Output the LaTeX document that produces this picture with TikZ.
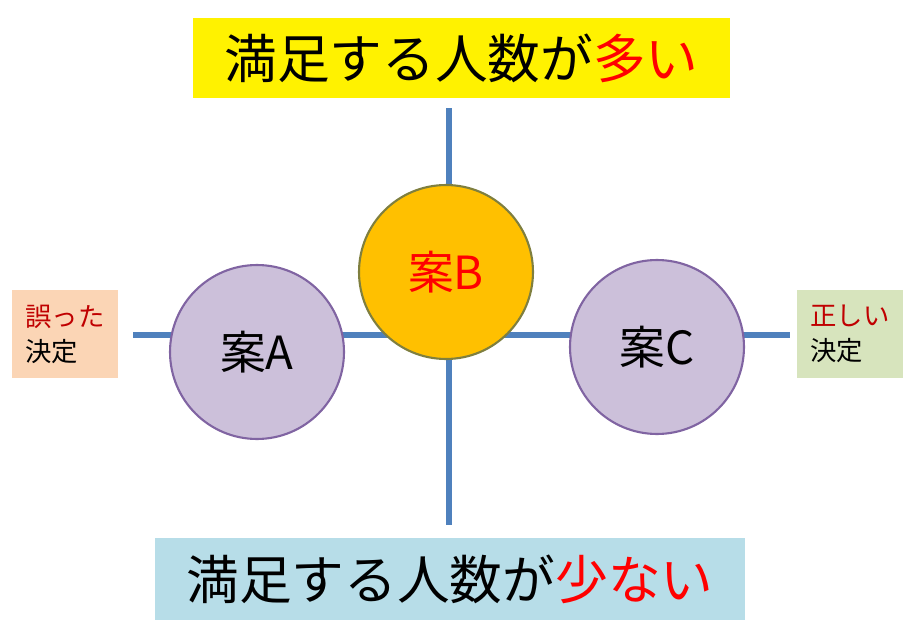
\documentclass[tikz,border=0pt]{standalone}
\usepackage{fontspec}
\setmainfont{Noto Sans CJK JP}
\usetikzlibrary{positioning}
\definecolor{axisblue}{HTML}{4F81BD}
\definecolor{planfill}{HTML}{CCC0DA}
\definecolor{planline}{HTML}{8064A2}
\definecolor{bestfill}{HTML}{FFC000}
\definecolor{bestline}{HTML}{7F7F3F}
\definecolor{darkred}{HTML}{C00000}
\definecolor{wrongfill}{HTML}{FBD5B5}
\definecolor{rightfill}{HTML}{D7E4BD}
\definecolor{lowfill}{HTML}{B7DDE8}
\begin{document}
\begin{tikzpicture}[
      x=0.02cm, y=-0.02cm,
      axis/.style={draw=axisblue, line width=3pt},
      plan/.style={circle, draw=planline, line width=1.2pt, fill=planfill, minimum size=3.48cm, font=\fontsize{26}{30}\selectfont},
      title/.style={rectangle, inner sep=0pt, font=\fontsize{30}{34}\selectfont},
      verdict/.style={rectangle, inner sep=0pt, align=left, minimum width=2.12cm, minimum height=1.76cm, font=\fontsize{15}{20}\selectfont}
      ]
      \useasboundingbox (0,0) rectangle (914,622);

      % axes
      \coordinate (top) at (449,108);
      \coordinate (bottom) at (449,525);
      \coordinate (left) at (133,335);
      \coordinate (right) at (790,335);
      \draw[axis] (top) -- (bottom);
      \draw[axis] (left) -- (right);

      % headings
      \node[title, fill=yellow, minimum width=10.74cm, minimum height=1.6cm] (high) at (461.5,58) {満足する人数が\textcolor{red}{多い}};
      \node[title, fill=lowfill, minimum width=11.8cm, minimum height=1.64cm] (low) at (450,579) {満足する人数が\textcolor{red}{少ない}};

      % the three plans
      \node[plan] (planA) at (257,352) {案A};
      \node[plan, fill=bestfill, draw=bestline] (planB) at (446,272) {\textcolor{red}{案B}};
      \node[plan] (planC) at (657,347) {案C};

      % the two ends
      \node[verdict, fill=wrongfill] (wrong) at (65,334) {\textcolor{darkred}{誤った}\\決定};
      \node[verdict, fill=rightfill] (correct) at (850,334) {\textcolor{darkred}{正しい}\\決定};
\end{tikzpicture}
\end{document}
